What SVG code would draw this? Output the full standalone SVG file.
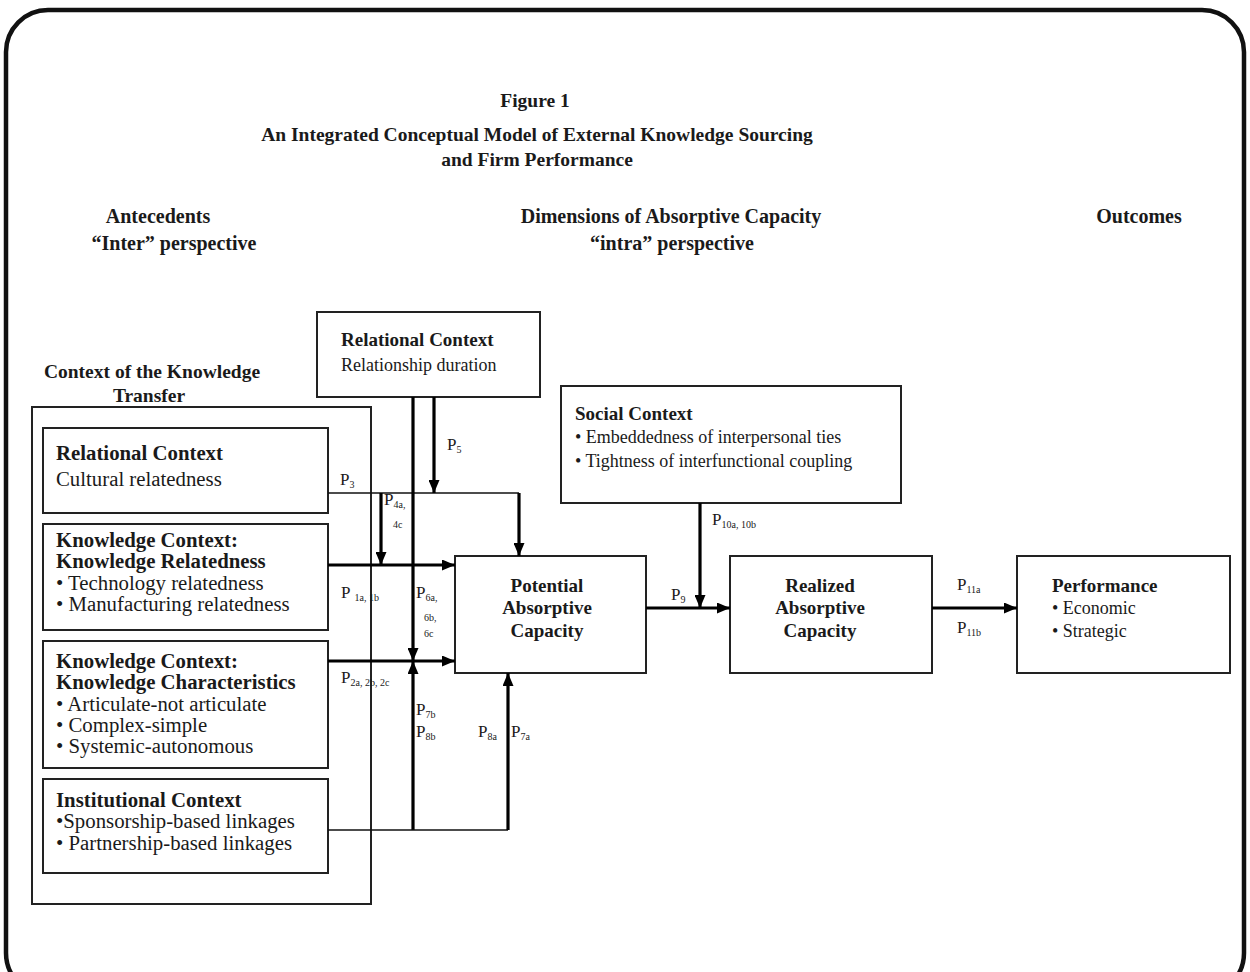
<svg xmlns="http://www.w3.org/2000/svg" width="1250" height="972" viewBox="0 0 1250 972">
  <defs>
    <marker id="arrow" markerUnits="userSpaceOnUse" markerWidth="13" markerHeight="11" refX="13" refY="5.5" orient="auto">
      <path d="M0,0 L13,5.5 L0,11 z" fill="#000"/>
    </marker>
    <style>
      text { font-family: "Liberation Serif", "Times New Roman", serif; fill: #1a1a1a; }
      .title { font-size: 19.5px; font-weight: bold; text-anchor: middle; }
      .hdr { font-size: 20px; font-weight: bold; text-anchor: middle; }
      .ctx { font-size: 19.5px; font-weight: bold; text-anchor: middle; }
      .lb { font-size: 20.8px; font-weight: bold; }
      .lr { font-size: 20.8px; }
      .nb { font-size: 19px; font-weight: bold; }
      .nr { font-size: 18px; }
      .nc { font-size: 19px; font-weight: bold; text-anchor: middle; }
      .p { font-size: 17px; }
      .sub { font-size: 10px; }
      .box { fill: #fff; stroke: #222; stroke-width: 2; }
      .frame { fill: none; stroke: #111; stroke-width: 4.5; }
      .thin { fill: none; stroke: #111; stroke-width: 1.7; }
      .thick { fill: none; stroke: #000; stroke-width: 3.2; }
    </style>
  </defs>

  <rect width="1250" height="972" fill="#fff"/>
  <!-- rounded page frame, bottom edge runs past the canvas -->
  <rect class="frame" x="6" y="10" width="1238" height="985" rx="42" ry="42"/>

  <!-- heading -->
  <g id="title">
    <text class="title" x="535" y="107">Figure 1</text>
    <text class="title" x="537" y="141">An Integrated Conceptual Model of External Knowledge Sourcing</text>
    <text class="title" x="537" y="166">and Firm Performance</text>
  </g>

  <!-- column headers -->
  <g id="headers">
    <text class="hdr" x="158" y="223">Antecedents</text>
    <text class="hdr" x="174" y="250">“Inter” perspective</text>
    <text class="hdr" x="671" y="223">Dimensions of Absorptive Capacity</text>
    <text class="hdr" x="672" y="250">“intra” perspective</text>
    <text class="hdr" x="1139" y="223">Outcomes</text>
    <text class="ctx" x="152" y="378">Context of the Knowledge</text>
    <text class="ctx" x="149" y="402">Transfer</text>
  </g>

  <!-- container of the knowledge-transfer contexts -->
  <g id="transfer-context">
    <rect x="32" y="407" width="339" height="497" fill="none" stroke="#222" stroke-width="2"/>
  </g>

  <g id="relational-cultural">
    <rect class="box" x="43" y="428" width="285" height="85"/>
    <text class="lb" x="56" y="460">Relational Context</text>
    <text class="lr" x="56" y="486">Cultural relatedness</text>
  </g>

  <g id="knowledge-relatedness">
    <rect class="box" x="43" y="524" width="285" height="106"/>
    <text class="lb" x="56" y="547">Knowledge Context:</text>
    <text class="lb" x="56" y="568">Knowledge Relatedness</text>
    <text class="lr" x="56" y="590">• Technology relatedness</text>
    <text class="lr" x="56" y="611">• Manufacturing relatedness</text>
  </g>

  <g id="knowledge-characteristics">
    <rect class="box" x="43" y="641" width="285" height="127"/>
    <text class="lb" x="56" y="668">Knowledge Context:</text>
    <text class="lb" x="56" y="689">Knowledge Characteristics</text>
    <text class="lr" x="56" y="711">• Articulate-not articulate</text>
    <text class="lr" x="56" y="732">• Complex-simple</text>
    <text class="lr" x="56" y="753">• Systemic-autonomous</text>
  </g>

  <g id="institutional">
    <rect class="box" x="43" y="779" width="285" height="94"/>
    <text class="lb" x="56" y="807">Institutional Context</text>
    <text class="lr" x="56" y="828">•Sponsorship-based linkages</text>
    <text class="lr" x="56" y="850">• Partnership-based linkages</text>
  </g>

  <g id="relational-duration">
    <rect class="box" x="317" y="312" width="223" height="85"/>
    <text class="nb" x="341" y="346">Relational Context</text>
    <text class="nr" x="341" y="371">Relationship duration</text>
  </g>

  <g id="social">
    <rect class="box" x="561" y="386" width="340" height="117"/>
    <text class="nb" x="575" y="420">Social Context</text>
    <text class="nr" x="575" y="443">• Embeddedness of interpersonal ties</text>
    <text class="nr" x="575" y="467">• Tightness of interfunctional coupling</text>
  </g>

  <g id="potential">
    <rect class="box" x="455" y="556" width="191" height="117"/>
    <text class="nc" x="547" y="592">Potential</text>
    <text class="nc" x="547" y="614">Absorptive</text>
    <text class="nc" x="547" y="637">Capacity</text>
  </g>

  <g id="realized">
    <rect class="box" x="730" y="556" width="202" height="117"/>
    <text class="nc" x="820" y="592">Realized</text>
    <text class="nc" x="820" y="614">Absorptive</text>
    <text class="nc" x="820" y="637">Capacity</text>
  </g>

  <g id="performance">
    <rect class="box" x="1017" y="556" width="213" height="117"/>
    <text class="nb" x="1052" y="592">Performance</text>
    <text class="nr" x="1052" y="614">• Economic</text>
    <text class="nr" x="1052" y="637">• Strategic</text>
  </g>

  <!-- propositions -->
  <g id="connectors">
    <!-- P3: cultural relatedness to potential capacity -->
    <polyline class="thin" points="328,493 519,493"/>
    <line class="thick" x1="519" y1="493" x2="519" y2="556" marker-end="url(#arrow)"/>
    <!-- P5: relationship duration moderates P3 -->
    <line class="thick" x1="434" y1="397" x2="434" y2="493" marker-end="url(#arrow)"/>
    <!-- P4: moderation of P1 -->
    <line class="thick" x1="381" y1="493" x2="381" y2="565" marker-end="url(#arrow)"/>
    <!-- P1 -->
    <line class="thick" x1="328" y1="565" x2="455" y2="565" marker-end="url(#arrow)"/>
    <!-- P6: relationship duration moderates P2 -->
    <line class="thick" x1="413" y1="397" x2="413" y2="661" marker-end="url(#arrow)"/>
    <!-- P2 -->
    <line class="thick" x1="328" y1="661" x2="455" y2="661" marker-end="url(#arrow)"/>
    <!-- P7b / P8b -->
    <line class="thick" x1="413" y1="830" x2="413" y2="661" marker-end="url(#arrow)"/>
    <!-- institutional linkages, P7a / P8a -->
    <polyline class="thin" points="328,830 508,830"/>
    <line class="thick" x1="508" y1="830" x2="508" y2="673" marker-end="url(#arrow)"/>
    <!-- P9 -->
    <line class="thick" x1="646" y1="608" x2="730" y2="608" marker-end="url(#arrow)"/>
    <!-- P10 -->
    <line class="thick" x1="700" y1="503" x2="700" y2="608" marker-end="url(#arrow)"/>
    <!-- P11 -->
    <line class="thick" x1="932" y1="608" x2="1017" y2="608" marker-end="url(#arrow)"/>

    <g id="labels">
      <text class="p" x="340" y="485">P<tspan class="sub" dy="3">3</tspan></text>
      <text class="p" x="447" y="450">P<tspan class="sub" dy="3">5</tspan></text>
      <text class="p" x="384" y="505">P<tspan class="sub" dy="3">4a,</tspan></text>
      <text class="sub" x="393" y="528">4c</text>
      <text class="p" x="341" y="598">P<tspan class="sub" dx="4" dy="3">1a, 1b</tspan></text>
      <text class="p" x="416" y="598">P<tspan class="sub" dy="3">6a,</tspan></text>
      <text class="sub" x="424" y="621">6b,</text>
      <text class="sub" x="424" y="637">6c</text>
      <text class="p" x="341" y="683">P<tspan class="sub" dy="3">2a, 2b, 2c</tspan></text>
      <text class="p" x="416" y="715">P<tspan class="sub" dy="3">7b</tspan></text>
      <text class="p" x="416" y="737">P<tspan class="sub" dy="3">8b</tspan></text>
      <text class="p" x="478" y="737">P<tspan class="sub" dy="3">8a</tspan></text>
      <text class="p" x="511" y="737">P<tspan class="sub" dy="3">7a</tspan></text>
      <text class="p" x="671" y="600">P<tspan class="sub" dy="3">9</tspan></text>
      <text class="p" x="712" y="525">P<tspan class="sub" dy="3">10a, 10b</tspan></text>
      <text class="p" x="957" y="590">P<tspan class="sub" dy="3">11a</tspan></text>
      <text class="p" x="957" y="633">P<tspan class="sub" dy="3">11b</tspan></text>
    </g>
  </g>
</svg>
